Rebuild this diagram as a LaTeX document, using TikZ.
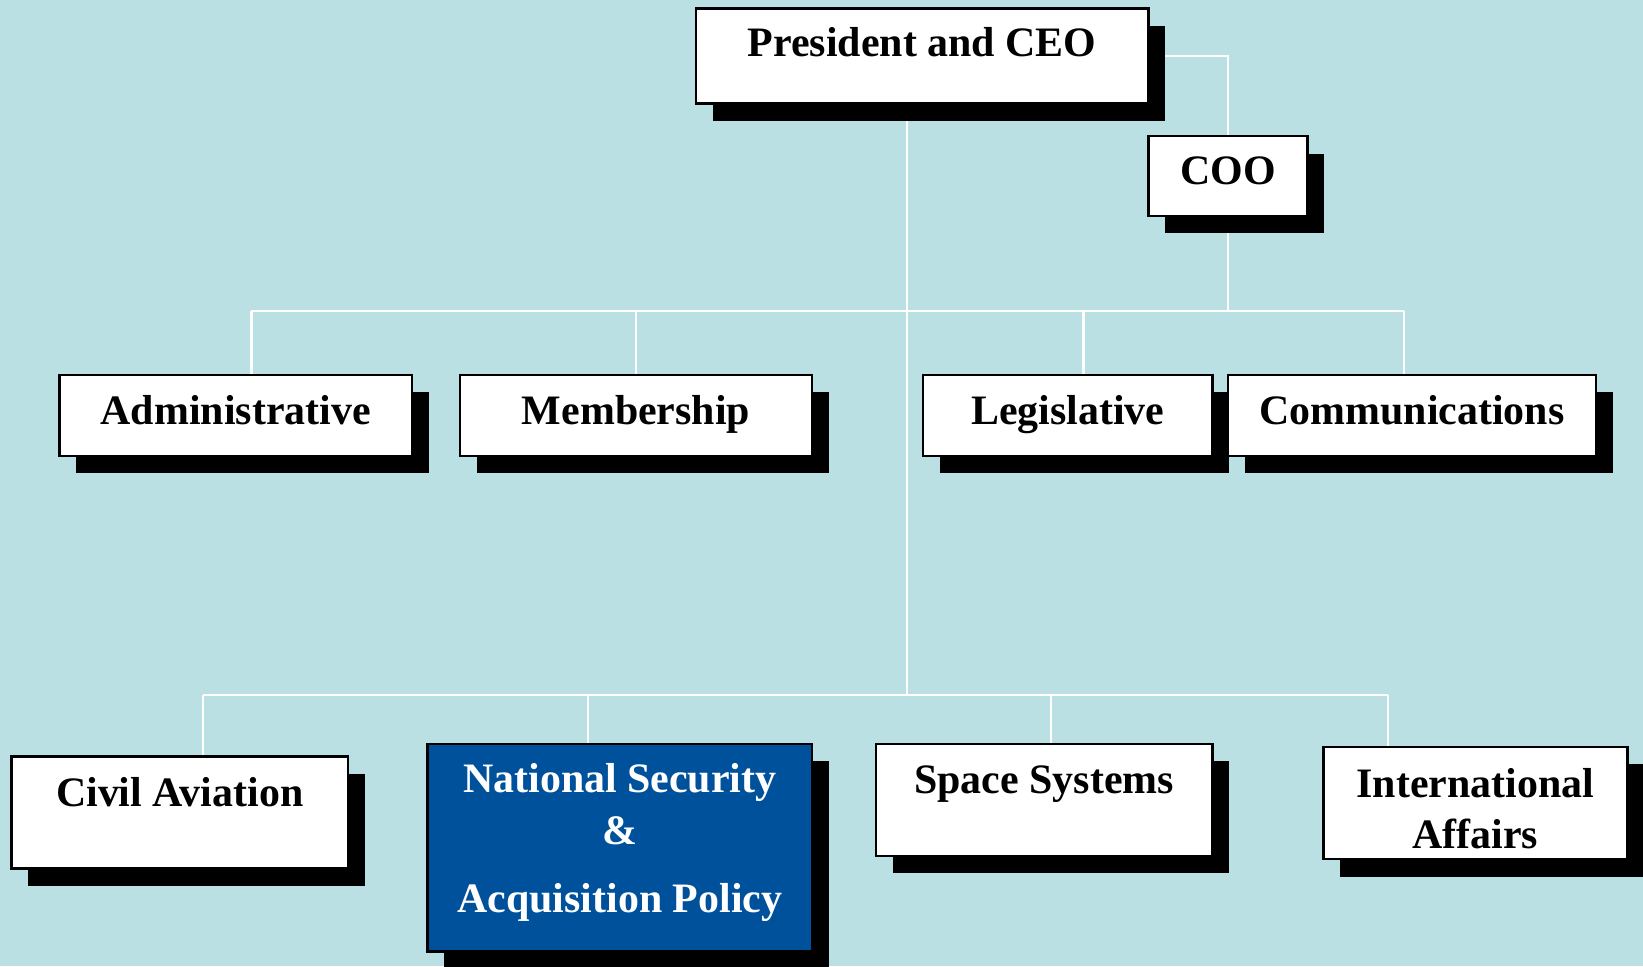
\documentclass[tikz,border=0pt]{standalone}
\usepackage{fontspec}
\setmainfont{Liberation Serif}
\usetikzlibrary{shadows}
\definecolor{bgblue}{RGB}{186,224,227}
\definecolor{navy}{RGB}{0,81,156}
\pgfdeclarelayer{bg}
\pgfsetlayers{bg,main}
\begin{document}
\begin{tikzpicture}[x=1pt,y=-1pt,
  box/.style={draw=black, line width=2.4pt, fill=white, inner sep=0pt, outer sep=0pt,
    drop shadow={shadow xshift=16pt, shadow yshift=-16.5pt, fill=black, opacity=1}},
  bluebox/.style={box, fill=navy},
  lbl/.style={font=\fontsize{40}{48}\selectfont\bfseries, anchor=base, inner sep=0pt},
  wlbl/.style={lbl, text=white},
  conn/.style={draw=white, line width=2pt}]
\begin{pgfonlayer}{bg}
\fill[bgblue] (0,0) rectangle (1568,922);
\end{pgfonlayer}
\useasboundingbox (0,0) rectangle (1568,922);
\clip (0,0) rectangle (1568,922);
% boxes
\node[box, minimum width=432pt, minimum height=91pt] (pres) at (880,53.5) {};
\node[box, minimum width=152pt, minimum height=76pt] (coo) at (1172,168) {};
\node[box, minimum width=336pt, minimum height=77pt] (adm) at (225,396.5) {};
\node[box, minimum width=336pt, minimum height=77pt] (mem) at (607,396.5) {};
\node[box, minimum width=276pt, minimum height=77pt] (leg) at (1019,396.5) {};
\node[box, minimum width=351pt, minimum height=77pt] (com) at (1347.5,396.5) {};
\node[box, minimum width=321pt, minimum height=107pt] (civ) at (171.5,775.5) {};
\node[bluebox, minimum width=367pt, minimum height=198pt] (nat) at (591.5,809) {};
\node[box, minimum width=321pt, minimum height=107pt] (spa) at (996.5,763.5) {};
\node[box, minimum width=290pt, minimum height=107pt] (int) at (1408,766.5) {};
% bus coordinates
\coordinate (b1) at (866,297);
\coordinate (b2) at (866,663);
\coordinate (d1) at (240,297);
\coordinate (d2) at (607,297);
\coordinate (d3) at (1034,297);
\coordinate (d4) at (1340,297);
\coordinate (e1) at (194,663);
\coordinate (e2) at (561,663);
\coordinate (e3) at (1003,663);
\coordinate (e4) at (1325,663);
% connectors, behind the boxes
\begin{pgfonlayer}{bg}
\draw[conn] (pres.east) -| (coo.north);
\draw[conn] (coo.south) -- (coo.south |- b1);
\draw[conn] (pres.south -| b1) -- (b2);
\draw[conn] (d1) -- (d4);
\draw[conn] (e1) -- (e4);
\draw[conn] (d1) -- (d1 |- adm.north);
\draw[conn] (d2) -- (d2 |- mem.north);
\draw[conn] (d3) -- (d3 |- leg.north);
\draw[conn] (d4) -- (d4 |- com.north);
\draw[conn] (e1) -- (e1 |- civ.north);
\draw[conn] (e2) -- (e2 |- nat.north);
\draw[conn] (e3) -- (e3 |- spa.north);
\draw[conn] (e4) -- (e4 |- int.north);
\end{pgfonlayer}
% labels
\node[lbl] (tpres) at (880,54) {President and CEO};
\node[lbl] (tcoo) at (1172,176.5) {COO};
\node[lbl] (tadm) at (225,405.5) {Administrative};
\node[lbl] (tmem) at (607,405.5) {Membership};
\node[lbl] (tleg) at (1019,405.5) {Legislative};
\node[lbl] (tcom) at (1347.5,405.5) {Communications};
\node[lbl] (tciv) at (171.5,770) {Civil Aviation};
\node[wlbl] (tnat1) at (591.5,756.5) {National Security};
\node[wlbl] (tnat2) at (591.5,805.5) {\&};
\node[wlbl] (tnat3) at (591.5,870.7) {Acquisition Policy};
\node[lbl] (tspa) at (996.5,757) {Space Systems};
\node[lbl] (tint1) at (1408,761) {International};
\node[lbl] (tint2) at (1408,809.5) {Affairs};
\end{tikzpicture}
\end{document}
